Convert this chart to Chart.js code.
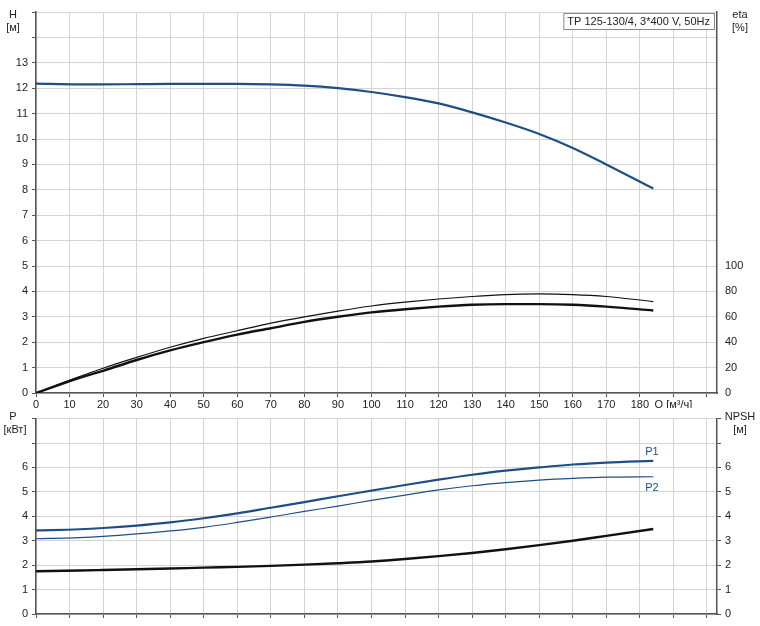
<!DOCTYPE html>
<html><head><meta charset="utf-8">
<script src="https://cdn.jsdelivr.net/npm/chart.js@4"></script>
<style>body{margin:0;background:#fff}canvas{display:block}</style>
</head><body>
<canvas id="top" width="760" height="408"></canvas>
<canvas id="bot" width="760" height="218"></canvas>
<script>
const qPoints=[0,13,20,30,40,50,60,70,80,90,100,110,120,130,140,150,160,170,184];
const headH=[12.18,12.15,12.15,12.16,12.17,12.17,12.17,12.15,12.1,12.0,11.85,11.65,11.4,11.05,10.65,10.2,9.65,9.0,8.05];
const etaUpper=[0,13,19.5,28,36,43,49,55,60,64.5,68.5,71.5,74,76,77.5,78,77.5,76,72];
const etaLower=[0,12,17.5,26,33.5,40,46,51,56,60,63.5,66,68,69.5,70,70,69.5,68,65];
const powerP1=[3.42,3.47,3.52,3.62,3.75,3.92,4.12,4.35,4.58,4.82,5.05,5.28,5.5,5.7,5.87,6.0,6.12,6.2,6.27];
const powerP2=[3.08,3.13,3.18,3.28,3.4,3.55,3.75,3.97,4.2,4.42,4.65,4.87,5.08,5.25,5.38,5.48,5.55,5.6,5.62];
const npsh=[1.75,1.78,1.8,1.83,1.86,1.9,1.93,1.97,2.02,2.08,2.15,2.25,2.37,2.5,2.65,2.82,3.0,3.2,3.48];
const xTickLabels={0:'0',10:'10',20:'20',30:'30',40:'40',50:'50',60:'60',70:'70',80:'80',90:'90',100:'100',110:'110',120:'120',130:'130',140:'140',150:'150',160:'160',170:'170',180:'180',190:'Q [м³/ч]'};
const titleText='TP 125-130/4, 3*400 V, 50Hz';

const pts=a=>qPoints.map((q,i)=>({x:q,y:a[i]}));
const BLUE='#1d4f86', GRID='#d4d4d4', AX='#555';
const FONT={family:'Arial, Liberation Sans, sans-serif',size:11};
Chart.defaults.font=FONT; Chart.defaults.color='#222';
const line=(data,color,w,axis)=>({data:pts(data),borderColor:color,borderWidth:w,pointRadius:0,cubicInterpolationMode:'monotone',yAxisID:axis,fill:false});

function fixW(w){return a=>{a.width=w;};}
function fixH(h){return a=>{a.height=h;};}

const texts={id:'texts',afterDraw(c,args,o){
  const ctx=c.ctx; ctx.save(); ctx.font='11px Arial, Liberation Sans, sans-serif'; ctx.fillStyle='#222';
  (o.items||[]).forEach(t=>{ctx.textAlign=t.align||'center'; ctx.fillStyle=t.color||'#222'; ctx.fillText(t.text,t.x,t.y);});
  if(o.box){const ca=c.chartArea; ctx.textAlign='left'; const w=ctx.measureText(titleText).width+8;
    const x=ca.right-w-3,y=ca.top+1; ctx.fillStyle='#fff'; ctx.fillRect(x,y,w,16); ctx.strokeStyle='#888'; ctx.strokeRect(x+0.5,y+0.5,w,16);
    ctx.fillStyle='#222'; ctx.fillText(titleText,x+4,y+12);}
  if(o.ends){const xs=c.scales.x,ys=c.scales.y; o.ends.forEach(e=>{ctx.textAlign='left';ctx.fillStyle=BLUE;ctx.fillText(e.text,xs.getPixelForValue(qPoints[qPoints.length-1])-8,ys.getPixelForValue(e.y)+e.dy);});}
  ctx.restore();}};

const xCommon=(labels,h)=>({type:'linear',min:0,max:203,afterFit:fixH(h),
  afterBuildTicks:a=>{a.ticks=[];for(let v=0;v<=200;v+=10)a.ticks.push({value:v});},
  ticks:{display:labels,autoSkip:false,maxRotation:0,padding:1,callback:v=>xTickLabels[v]||''},
  grid:{color:GRID,tickLength:4,tickColor:AX},border:{color:AX,width:1.5}});

new Chart(document.getElementById('top'),{type:'line',
  data:{datasets:[line(headH,BLUE,2.2,'y'),line(etaUpper,'#111',1.2,'y2'),line(etaLower,'#111',2.4,'y2')]},
  options:{responsive:false,animation:false,layout:{padding:{top:12}},plugins:{legend:{display:false},tooltip:{enabled:false},
    texts:{box:true,items:[{text:'H',x:13,y:18},{text:'[м]',x:13,y:31},{text:'eta',x:740,y:18},{text:'[%]',x:740,y:31}]}},
    scales:{x:xCommon(true,15),
      y:{position:'left',min:0,max:15,afterFit:fixW(36),ticks:{stepSize:1,padding:4,callback:v=>v<=13?v:''},grid:{color:GRID,tickLength:4,tickColor:AX},border:{color:AX,width:1.5}},
      y2:{position:'right',min:0,max:300,afterFit:fixW(43),ticks:{stepSize:20,padding:4,callback:v=>v<=100?v:''},grid:{display:false,drawOnChartArea:false,tickLength:4,tickColor:AX},border:{color:AX,width:1.5}}}},
  plugins:[texts]});

new Chart(document.getElementById('bot'),{type:'line',
  data:{datasets:[line(powerP1,BLUE,2.2,'y'),line(powerP2,BLUE,1.2,'y'),line(npsh,'#111',2.4,'y')]},
  options:{responsive:false,animation:false,layout:{padding:{top:4}},plugins:{legend:{display:false},tooltip:{enabled:false},
    texts:{ends:[{text:'P1',y:6.27,dy:-6},{text:'P2',y:5.62,dy:14}],items:[{text:'P',x:13,y:12},{text:'[кВт]',x:15,y:25},{text:'NPSH',x:740,y:12},{text:'[м]',x:740,y:25}]}},
    scales:{x:xCommon(false,12),
      y:{position:'left',min:0,max:8,afterFit:fixW(36),ticks:{stepSize:1,padding:4,callback:v=>v<=6?v:''},grid:{color:GRID,tickLength:4,tickColor:AX},border:{color:AX,width:1.5}},
      y2:{position:'right',min:0,max:8,afterFit:fixW(43),ticks:{stepSize:1,padding:4,callback:v=>v<=6?v:''},grid:{drawOnChartArea:false,tickLength:4,tickColor:AX},border:{color:AX,width:1.5}}}},
  plugins:[texts]});
</script></body></html>
